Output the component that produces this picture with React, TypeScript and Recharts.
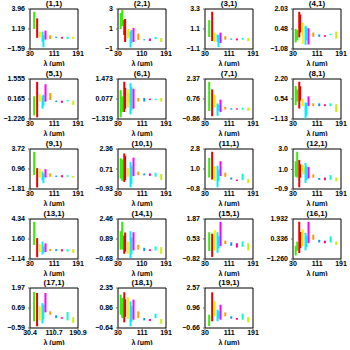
import React from 'react';
import { ComposedChart, Line, XAxis, YAxis, ReferenceArea } from 'recharts';

// wavelength positions (um) of the bar groups, shared by all panels
const WAVELENGTHS = [39, 44, 51, 54, 63, 66, 72, 75, 82, 98, 118, 137, 156, 175];
const COLORS = ['#33ee00', '#33ee00', '#ee0000', '#ee0000', '#ffee00', '#ffee00', '#00eeff', '#00eeff',
    '#ff00ff', '#ff9900', '#0099ff', '#ff0099', '#00ffcc', '#ccee00'];

const Y_TICKS = [
    ['3.96', '1.19', '-1.59'], ['3', '1', '-1'], ['3.3', '1.1', '-1.1'], ['2.03', '0.48', '-1.08'],
    ['1.555', '0.165', '-1.226'], ['1.473', '0.077', '-1.319'], ['2.37', '0.76', '-0.86'], ['2.20', '0.54', '-1.13'],
    ['3.72', '0.96', '-1.81'], ['2.36', '0.71', '-0.93'], ['2.8', '1.0', '-0.8'], ['3.0', '1.0', '-0.9'],
    ['4.34', '1.60', '-1.14'], ['2.46', '0.89', '-0.68'], ['1.87', '0.53', '-0.82'], ['1.932', '0.336', '-1.260'],
    ['1.97', '0.69', '-0.59'], ['2.35', '0.86', '-0.64'], ['2.57', '0.96', '-0.66'],
];
const X_TICKS_DEFAULT = ['30', '111', '191'];
const X_TICKS_SPECIAL: Record<number, string[]> = {
    1: ['30', '110', '191'],
    13: ['30', '110', '191'],
    16: ['30.4', '110.7', '190.9'],
};

type R = [number, number] | null;
// order: green, green, red, red, yellow, yellow, cyan, cyan, magenta, orange, blue, pink, teal, lime
const RANGES: R[][] = [
    [null, [1.19, 3.57], null, [-0.04, 2.66], [0.0, 0.82], null, [-0.62, 0.82], [-1.35, 0.34], [-0.29, 0.96], [-0.2, 0.3], [-0.05, 0.1], [-0.15, 0.1], [-0.2, 0.1], [-0.2, 0.1]],
    [[1.0, 2.6], [1.3, 2.9], [0.4, 1.9], [-0.3, 2.0], [0.05, 0.9], [0.3, 1.0], [-0.85, 0.75], [-0.4, 0.9], [-0.3, 1.1], [-0.1, 0.55], [-0.13, -0.03], [-0.2, 0.05], [0.0, 0.2], [-0.3, 0.1]],
    [null, [0.22, 2.07], null, [-0.22, 3.0], [-0.34, 0.7], null, [-0.3, 0.5], [-0.9, 0.43], [-0.45, 0.7], [-0.07, 0.3], [-0.07, 0.05], [-0.15, 0.05], [-0.07, 0.12], [-0.22, 0.12]],
    [[-0.57, 0.48], [-0.4, 0.4], [-0.18, 1.81], [0.2, 1.6], [-0.68, 0.95], null, [-0.76, 0.73], [-0.4, 0.6], [-0.73, 0.54], [-0.13, 0.2], [-0.13, 0.05], [-0.13, 0.0], [0.0, 0.1], [-0.27, 0.27]],
    [null, [-0.98, 0.36], null, [-1.11, 1.36], [-0.02, 0.47], null, [-0.5, 0.35], [-0.3, 0.45], [-0.02, 1.19], [0.1, 0.58], [-0.05, 0.05], [-0.1, 0.05], [0.0, 0.1], [-0.25, 0.05]],
    [[-1.2, 0.7], [-0.83, 0.26], [-0.83, 1.28], [-0.6, 0.86], [-0.5, 0.75], [-0.2, 0.5], [-1.0, 1.18], [-0.7, 0.9], [-0.6, 0.8], [-0.1, 0.15], [-0.1, 0.15], [0.0, 0.1], [0.0, 0.1], [-0.1, 0.15]],
    [null, [-0.21, 2.14], null, [-0.64, 1.53], [0.07, 1.1], null, [-0.6, 0.4], [-0.2, 0.3], [-0.3, 0.7], [-0.1, 0.12], [-0.1, 0.0], [-0.1, 0.0], [-0.1, 0.05], [-0.2, 0.05]],
    [[0.03, 1.62], [0.32, 1.33], [-0.26, 1.97], [0.4, 1.6], [-0.06, 0.52], null, [-1.1, 0.23], [-0.85, 0.23], [-0.06, 0.75], [-0.06, 0.17], [-0.06, 0.17], [-0.06, 0.1], [-0.06, 0.17], [-0.55, 0.1]],
    [null, [0.12, 3.33], null, [-1.6, 1.07], [-0.22, 0.93], null, [-0.6, 0.6], [-1.0, 0.3], [-0.22, 0.93], [-0.13, 0.35], [-0.13, 0.05], [-0.2, 0.1], [-0.13, 0.1], [-0.25, 0.0]],
    [[-0.07, 1.6], [-0.25, 1.5], [-0.35, 2.0], [-0.2, 1.8], [0.07, 0.8], null, [-0.8, 1.3], [-0.5, 1.0], [0.13, 1.65], [0.2, 0.5], [0.2, 0.35], [0.15, 0.35], [0.08, 0.4], [-0.2, 0.3]],
    [null, [0.24, 2.0], null, [0.05, 2.55], [-0.08, 1.23], null, [-0.65, 1.3], [-0.08, 0.9], [0.36, 1.7], [0.3, 0.67], [0.05, 0.23], [-0.08, 0.05], [0.0, 0.57], [-0.27, 0.08]],
    [[0.3, 1.8], [0.22, 2.73], [-0.73, 1.92], [0.2, 1.5], [0.8, 1.47], [0.5, 1.2], [-0.32, 1.65], [0.0, 1.3], [0.12, 1.24], [0.2, 0.52], [0.0, 0.17], [-0.05, 0.22], [0.0, 0.45], [-0.15, 0.22]],
    [null, [0.77, 3.95], null, [-0.9, 1.72], [-0.19, 0.86], null, [-0.52, 1.24], [-0.3, 0.6], [-0.19, 1.0], [-0.05, 0.24], [-0.05, 0.2], [-0.1, 0.2], [-0.1, 0.2], [-0.3, 0.2]],
    [[0.06, 1.5], [0.06, 2.24], [-0.27, 1.15], [-0.1, 1.4], [-0.27, 0.68], null, [-0.6, 1.5], [-0.3, 1.0], [0.0, 1.42], [0.06, 0.43], [-0.05, 0.2], [-0.05, 0.08], [0.0, 0.3], [-0.27, 0.25]],
    [null, [-0.28, 0.98], null, [-0.68, 0.88], [-0.24, 1.12], null, [-0.4, 0.98], [-0.1, 0.7], [0.04, 1.68], [0.19, 0.42], [0.07, 0.3], [-0.05, 0.24], [0.0, 0.36], [-0.24, 0.24]],
    [[-0.98, -0.2], [-0.6, 0.13], [-0.78, 1.71], [-0.4, 0.9], [-0.23, 1.1], null, [-0.57, 0.82], [-0.3, 0.6], [0.0, 1.71], [0.27, 0.68], [0.06, 0.27], [-0.01, 0.2], [0.06, 0.54], [-0.15, 0.13]],
    [null, [-0.16, 1.71], null, [-0.48, 1.65], [-0.1, 0.8], null, [-0.3, 1.0], [0.0, 0.9], [0.41, 1.65], [0.26, 0.48], [0.05, 0.22], [0.0, 0.1], [-0.1, 0.43], [-0.27, 0.1]],
    [[0.35, 1.85], [0.1, 1.6], [-0.22, 2.03], [0.2, 1.5], [0.03, 1.68], null, [-0.52, 1.35], [-0.2, 1.0], [-0.02, 1.48], [0.1, 0.6], [-0.07, 0.1], [-0.12, 0.03], [0.1, 0.43], [-0.32, 0.03]],
    [null, [-0.5, 0.41], null, [-0.12, 2.22], [0.28, 1.49], null, [-0.12, 0.82], [0.1, 0.7], [0.01, 1.22], [0.28, 0.6], [0.09, 0.28], [0.01, 0.15], [0.01, 0.5], [-0.2, 0.23]],
];

const COL_LEFT = [30, 118, 205, 293];
const ROW_TOP = [9, 79, 149, 219, 288];
const PLOT_W = 48;
const PLOT_H = 39;

const tickStyle = { fontSize: 7, fill: '#000', fontWeight: 'bold' as const };

const Panel: React.FC<{ idx: number }> = ({ idx }) => {
    const yLabels = Y_TICKS[idx];
    const yTicks = yLabels.map(Number).sort((a, b) => a - b);
    const xLabels = X_TICKS_SPECIAL[idx] || X_TICKS_DEFAULT;
    const xTicks = xLabels.map(Number);
    const fmtY = (v: number) => (yLabels.find(l => Number(l) === v) || String(v)).replace('-', '\u2212');
    const fmtX = (v: number) => xLabels.find(l => Number(l) === v) || String(v);
    const left = COL_LEFT[idx % 4];
    const top = ROW_TOP[Math.floor(idx / 4)];

    // each range becomes a short vertical segment: two points at the same wavelength
    const segments = WAVELENGTHS.map((wl, i) => {
        const r = RANGES[idx][i];
        return r ? { key: i, color: COLORS[i], data: [{ wl, v: r[0] }, { wl, v: r[1] }] } : null;
    }).filter(Boolean) as { key: number; color: string; data: { wl: number; v: number }[] }[];

    return (
        <div style={{ position: 'absolute', left: left - 30, top: top - 12 }}>
            <div style={{ position: 'absolute', left: 30, top: 3, width: PLOT_W, textAlign: 'center', fontSize: 8, lineHeight: '8px', fontWeight: 'bold' }}>
                ({idx + 1},1)
            </div>
            <ComposedChart width={30 + PLOT_W + 10} height={12 + PLOT_H + 18}
                margin={{ top: 12, right: 10, bottom: 0, left: 0 }}>
                <XAxis type="number" dataKey="wl" domain={[xTicks[0], xTicks[2]]} ticks={xTicks}
                    allowDataOverflow tickFormatter={fmtX} tick={tickStyle} tickSize={2} tickMargin={0}
                    axisLine={false} height={17} interval={0}
                    label={{ value: '\u03bb (\u03bcm)', position: 'insideBottom', offset: 0, fontSize: 7, fill: '#000', fontWeight: 'bold' }} />
                <YAxis type="number" dataKey="v" domain={[yTicks[0], yTicks[2]]} ticks={yTicks} allowDataOverflow
                    tickFormatter={fmtY} tick={tickStyle} tickSize={2} tickMargin={3} axisLine={false}
                    width={30} interval={0} />
                {segments.map(s => (
                    <Line key={s.key} data={s.data} dataKey="v" type="linear" stroke={s.color}
                        strokeWidth={2} dot={false} activeDot={false} isAnimationActive={false} />
                ))}
                <ReferenceArea x1={xTicks[0]} x2={xTicks[2]} y1={yTicks[0]} y2={yTicks[2]}
                    fill="none" fillOpacity={0} stroke="#000" strokeWidth={1} ifOverflow="visible" />
            </ComposedChart>
        </div>
    );
};

export default function App() {
    return (
        <div style={{ position: 'absolute', left: 0, top: 0, width: 350, height: 350, background: '#fff', fontFamily: '"Liberation Sans", Arial, sans-serif' }}>
            {RANGES.map((_, i) => <Panel key={i} idx={i} />)}
        </div>
    );
}
